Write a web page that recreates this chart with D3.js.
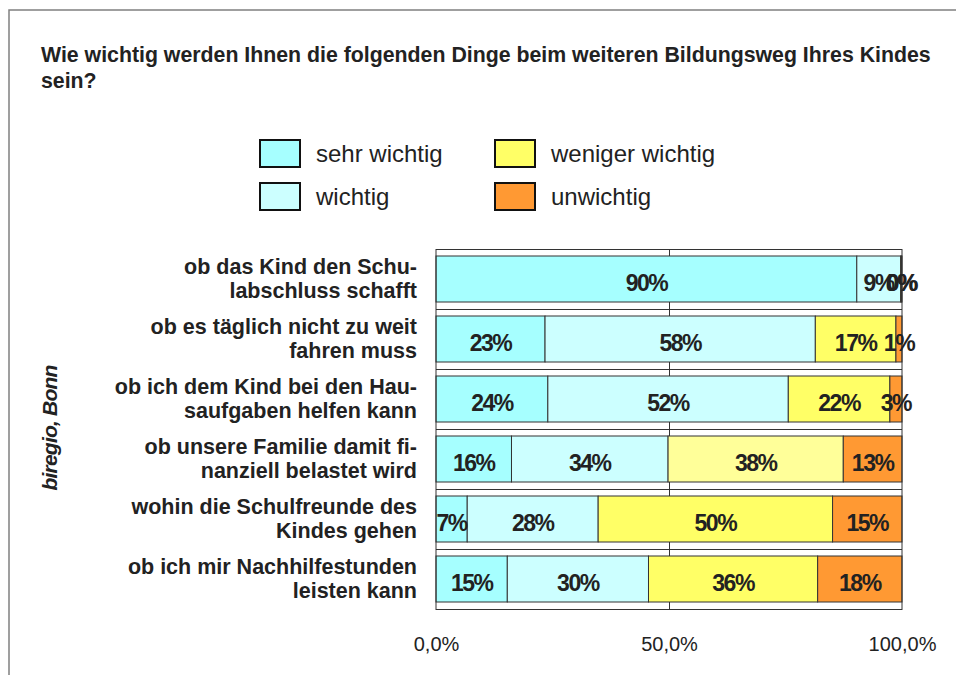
<!DOCTYPE html>
<html>
<head>
<meta charset="utf-8">
<script src="https://cdn.jsdelivr.net/npm/d3@7"></script>
<style>
  body { margin: 0; background: #fff; }
  text { font-family: "Liberation Sans", Arial, sans-serif; fill: #222; }
</style>
</head>
<body>
<div id="container"></div>
<script>
// chart data
const categories = [
    ["ob das Kind den Schu-", "labschluss schafft"],
    ["ob es täglich nicht zu weit", "fahren muss"],
    ["ob ich dem Kind bei den Hau-", "saufgaben helfen kann"],
    ["ob unsere Familie damit fi-", "nanziell belastet wird"],
    ["wohin die Schulfreunde des", "Kindes gehen"],
    ["ob ich mir Nachhilfestunden", "leisten kann"]
];
const seriesNames = ["sehr wichtig", "wichtig", "weniger wichtig", "unwichtig"];
const sehrWichtig = [90.3, 23.4, 24.0, 16.2, 6.7, 15.3];
const wichtig = [9.4, 58.0, 51.6, 33.6, 28.1, 30.3];
const wenigerWichtig = [0.2, 17.3, 21.8, 37.6, 50.3, 36.3];
const unwichtig = [0.1, 1.3, 2.6, 12.6, 14.9, 18.1];
const xTicks = [0, 50, 100];
const titleLines = ["Wie wichtig werden Ihnen die folgenden Dinge beim weiteren Bildungsweg Ihres Kindes", "sein?"];
const sideTitle = "biregio, Bonn";

const width = 956;
const height = 675;
const colors = ["#a6ffff", "#ccffff", "#ffff66", "#ff9933"];
// the "weniger wichtig" cell of row 4 is drawn in a paler yellow
const fillOverride = { "3-2": "#ffff99" };

const svg = d3.select("#container")
    .append("svg")
    .attr("width", width)
    .attr("height", height);

//Outer frame (only top and left edges are visible)
svg.append("path")
    .attr("d", "M9," + height + "V10H" + width)
    .attr("fill", "none")
    .attr("stroke", "#808080")
    .attr("stroke-width", 1.5);

//Title
svg.append("g").selectAll("text")
    .data(titleLines)
    .enter()
    .append("text")
    .attr("x", 41)
    .attr("y", (d, i) => 62 + i * 26)
    .attr("font-size", 21.3)
    .attr("font-weight", "bold")
    .text(d => d);

//Legend
const legend = svg.append("g");
seriesNames.forEach(function (name, i) {
    const col = Math.floor(i / 2);
    const row = i % 2;
    const g = legend.append("g")
        .attr("transform", `translate(${260 + col * 235}, ${140 + row * 43})`);
    g.append("rect")
        .attr("width", 40)
        .attr("height", 27)
        .attr("fill", colors[i])
        .attr("stroke", "#111")
        .attr("stroke-width", 2);
    g.append("text")
        .attr("x", 56)
        .attr("y", 22)
        .attr("font-size", 24)
        .text(name);
});

//Scales
const xScale = d3.scaleLinear()
    .domain([0, 100])
    .range([436, 902]);

const yScale = d3.scaleBand()
    .domain(d3.range(categories.length))
    .range([249, 609])
    .paddingInner(14 / 60)
    .paddingOuter(7 / 60);

//Grid lines
const grid = svg.append("g")
    .attr("stroke", "#333")
    .attr("stroke-width", 1);
d3.range(categories.length + 1).forEach(function (i) {
    const y = 249 + i * yScale.step() + 0.5;
    grid.append("line")
        .attr("x1", xScale(0)).attr("x2", xScale(100))
        .attr("y1", y).attr("y2", y);
});
grid.append("line")
    .attr("x1", xScale(50) + 0.5).attr("x2", xScale(50) + 0.5)
    .attr("y1", 249).attr("y2", 610);

//Stack the series
const rows = categories.map((c, i) => ({
    index: i,
    s0: sehrWichtig[i],
    s1: wichtig[i],
    s2: wenigerWichtig[i],
    s3: unwichtig[i]
}));
const stack = d3.stack().keys(["s0", "s1", "s2", "s3"]);
const stacked = stack(rows);

const bars = svg.append("g");
stacked.forEach(function (layer, k) {
    bars.selectAll(null)
        .data(layer)
        .enter()
        .append("rect")
        .attr("x", d => xScale(d[0]))
        .attr("y", d => yScale(d.data.index))
        .attr("width", d => xScale(d[1]) - xScale(d[0]))
        .attr("height", yScale.bandwidth())
        .attr("fill", d => fillOverride[d.data.index + "-" + k] || colors[k])
        .attr("stroke", "#333")
        .attr("stroke-width", 1);
});

//Plot border
svg.append("rect")
    .attr("x", xScale(0))
    .attr("y", 249.5)
    .attr("width", xScale(100) - xScale(0))
    .attr("height", 360)
    .attr("fill", "none")
    .attr("stroke", "#333")
    .attr("stroke-width", 1);

//Value labels
const labels = svg.append("g");
stacked.forEach(function (layer, k) {
    labels.selectAll(null)
        .data(layer)
        .enter()
        .append("text")
        .attr("x", d => (xScale(d[0]) + xScale(d[1])) / 2)
        .attr("y", d => yScale(d.data.index) + yScale.bandwidth() / 2 + 12)
        .attr("text-anchor", "middle")
        .attr("font-size", 23)
        .attr("font-weight", "bold")
        .attr("letter-spacing", "-1.5px")
        .text(d => Math.round(d[1] - d[0]) + "%");
});

//Category labels
const catLabels = svg.append("g");
categories.forEach(function (lines, i) {
    const cy = yScale(i) + yScale.bandwidth() / 2;
    catLabels.append("text")
        .attr("x", 417)
        .attr("y", cy - 5)
        .attr("text-anchor", "end")
        .attr("font-size", 21.5)
        .attr("font-weight", "bold")
        .selectAll("tspan")
        .data(lines)
        .enter()
        .append("tspan")
        .attr("x", 417)
        .attr("dy", (d, j) => j === 0 ? 0 : 23.5)
        .text(d => d);
});

//X axis
const deLocale = d3.formatLocale({ decimal: ",", thousands: ".", grouping: [3], currency: ["", " €"] });
const fmt = deLocale.format(".1f");
const xAxis = d3.axisBottom(xScale)
    .tickValues(xTicks)
    .tickSize(0)
    .tickFormat(d => fmt(d) + "%");
const axisG = svg.append("g")
    .attr("transform", "translate(0, 634)")
    .call(xAxis);
axisG.select(".domain").remove();
axisG.selectAll("text")
    .attr("font-size", 20)
    .attr("fill", "#333")
    .style("font-family", "'Liberation Sans', Arial, sans-serif");

//Side title
svg.append("text")
    .attr("transform", "translate(57, 428) rotate(-90)")
    .attr("text-anchor", "middle")
    .attr("font-size", 21)
    .attr("font-weight", "bold")
    .attr("font-style", "italic")
    .attr("letter-spacing", "-0.8px")
    .text(sideTitle);
</script>
</body>
</html>
